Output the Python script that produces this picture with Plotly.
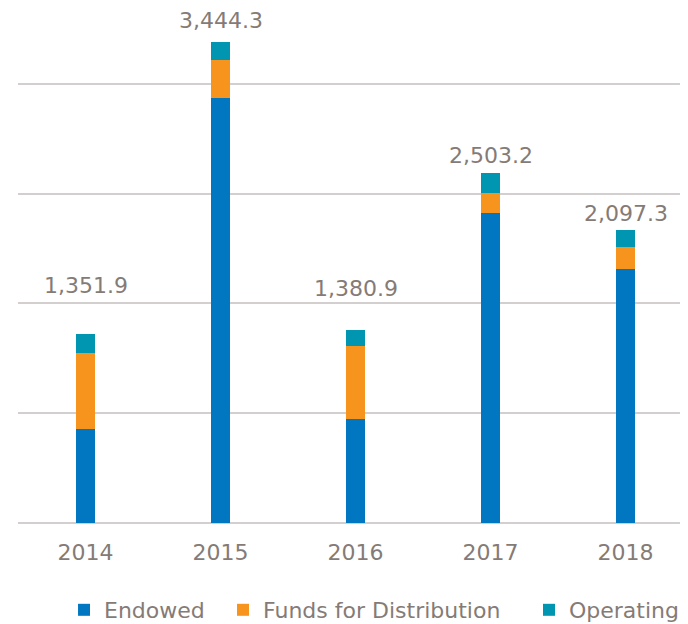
import plotly.graph_objects as go

years = ["2014", "2015", "2016", "2017", "2018"]
endowed = [671.5, 3043.8, 743.1, 2221.6, 1821.3]
funds_for_distribution = [547.3, 269.6, 525.3, 144.4, 152.6]
operating = [133.1, 130.9, 112.5, 137.2, 123.4]
totals = [1351.9, 3444.3, 1380.9, 2503.2, 2097.3]
total_labels = ["1,351.9", "3,444.3", "1,380.9", "2,503.2", "2,097.3"]

label_shift = [34, 6.5, 27, 3, 2.5]

TEXT = "#857b76"
FONT = "DejaVu Sans"

series = [
    ("Endowed", endowed, "#0077c0", "legend", 0.0687, "left"),
    ("Funds for Distribution", funds_for_distribution, "#f7941e", "legend2", 0.306, "left"),
    ("Operating", operating, "#0096b2", "legend3", 0.994, "right"),
]

fig = go.Figure()
legends = {}
for name, vals, col, lg, lx, anchor in series:
    fig.add_trace(go.Bar(x=years, y=vals, name=name, legend=lg,
                         marker=dict(color=col, line=dict(width=0)), width=0.142))
    legends[lg] = dict(orientation="h", x=lx, xanchor=anchor, y=-0.1696, yanchor="middle",
                       font=dict(family=FONT, size=22, color=TEXT), itemwidth=30,
                       bgcolor="rgba(0,0,0,0)")

for i, (tot, lab, sh) in enumerate(zip(totals, total_labels, label_shift)):
    fig.add_annotation(x=i, y=tot, xref="x", yref="y", text=lab, showarrow=False,
                       yanchor="bottom", yshift=sh,
                       font=dict(family=FONT, size=22, color=TEXT))

fig.update_layout(
    width=680, height=616,
    barmode="stack",
    margin=dict(l=10, r=0, t=2, b=101, autoexpand=False),
    plot_bgcolor="white", paper_bgcolor="white",
    font=dict(family=FONT, color=TEXT),
    showlegend=True,
    xaxis=dict(type="category", range=[-0.5, 4.463], showgrid=False, showline=False,
               ticks="outside", ticklen=10, tickcolor="rgba(0,0,0,0)", automargin=False,
               tickfont=dict(family=FONT, size=22, color=TEXT), zeroline=False),
    yaxis=dict(range=[0, 3673], dtick=786, tick0=0, showgrid=True, gridcolor="#d3cfcf",
               gridwidth=1.6, showticklabels=False, zeroline=True, zerolinecolor="#d3cfcf",
               zerolinewidth=1.6, showline=False, automargin=False),
    **legends,
)

fig.write_html("out.html")
